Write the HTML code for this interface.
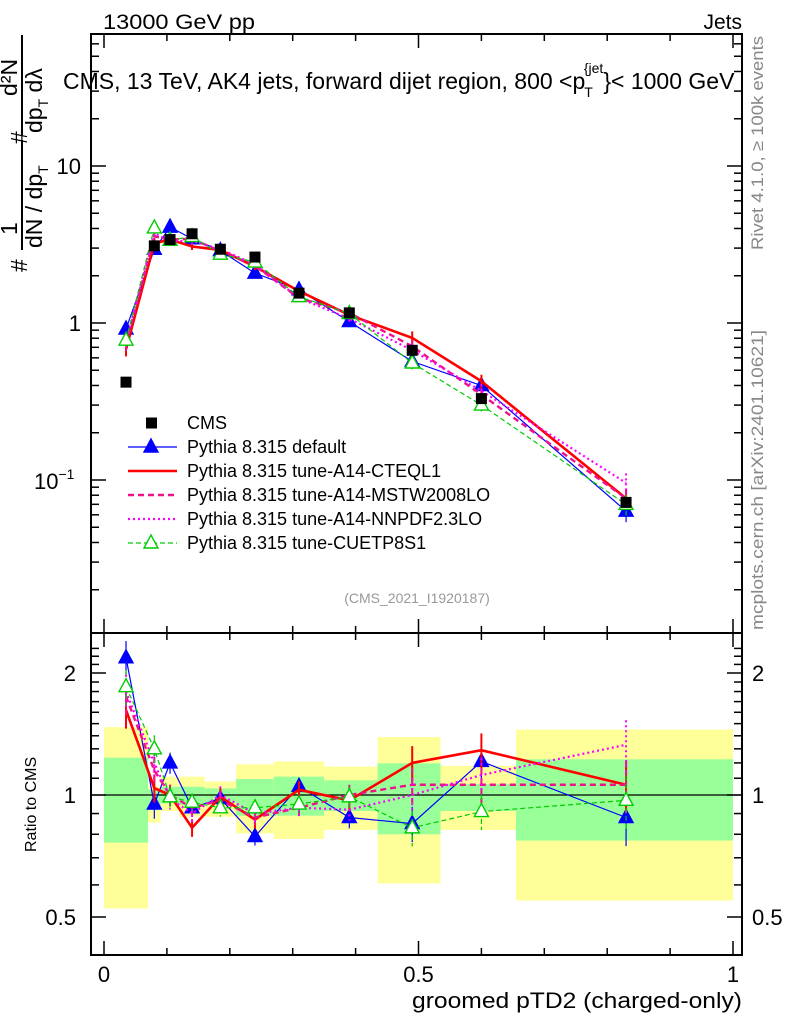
<!DOCTYPE html>
<html><head><meta charset="utf-8"><style>
body{margin:0;background:#fff;}
svg text{font-family:"Liberation Sans",sans-serif;}
</style></head><body>
<svg id="chart" width="786" height="1024" viewBox="0 0 786 1024" xmlns="http://www.w3.org/2000/svg">
<defs>
<clipPath id="clipMain"><rect x="91" y="34" width="651" height="599"/></clipPath>
<clipPath id="clipRatio"><rect x="91" y="633" width="651" height="322"/></clipPath>
</defs>
<g id="bands" clip-path="url(#clipRatio)"></g>
<g id="axes"></g>
<g id="mainSeries" clip-path="url(#clipMain)"></g>
<g id="ratioSeries" clip-path="url(#clipRatio)"></g>
<g id="legend"></g>

<text x="103" y="29" font-size="21" textLength="152" lengthAdjust="spacingAndGlyphs">13000 GeV pp</text>
<text x="742" y="29" font-size="21" text-anchor="end">Jets</text>
<text x="63" y="89" font-size="23">CMS, 13 TeV, AK4 jets, forward dijet region, 800 &lt;p<tspan font-size="14" dy="8" dx="-1">T</tspan><tspan font-size="14" dy="-24" dx="-9">{jet</tspan><tspan dy="16">}&lt; 1000 GeV</tspan></text>
<text x="417" y="603" font-size="14" fill="#999" text-anchor="middle">(CMS_2021_I1920187)</text>
<text transform="translate(763,250) rotate(-90)" font-size="17" fill="#888" textLength="214" lengthAdjust="spacingAndGlyphs">Rivet 4.1.0, ≥ 100k events</text>
<text transform="translate(763,630) rotate(-90)" font-size="17" fill="#888" textLength="300" lengthAdjust="spacingAndGlyphs">mcplots.cern.ch [arXiv:2401.10621]</text>
<text x="742" y="1008" font-size="22" text-anchor="end" textLength="330" lengthAdjust="spacingAndGlyphs">groomed pTD2 (charged-only)</text>
<text transform="translate(36,852) rotate(-90)" font-size="16">Ratio to CMS</text>
<g font-size="23">
<text transform="translate(27,272) rotate(-90)">#</text>
<text transform="translate(17,235) rotate(-90)">1</text>
<line x1="22" y1="250" x2="22" y2="140" stroke="#000" stroke-width="2"/>
<text transform="translate(42,248) rotate(-90)">dN / dp<tspan font-size="14" dy="6">T</tspan></text>
<text transform="translate(27,144) rotate(-90)">#</text>
<text transform="translate(17,96) rotate(-90)">d²N</text>
<line x1="22" y1="135" x2="22" y2="35" stroke="#000" stroke-width="2"/>
<text transform="translate(42,133) rotate(-90)">dp<tspan font-size="14" dy="6">T</tspan><tspan dy="-6"> dλ</tspan></text>
</g>
</svg>
<script>
// ---- data ----
const binCenters = [0.035,0.08,0.105,0.14,0.185,0.24,0.31,0.39,0.49,0.6,0.83];
const binEdges = [0,0.07,0.09,0.12,0.16,0.21,0.27,0.35,0.435,0.535,0.655,1.0];
const cmsValues = [0.42,3.1,3.4,3.7,2.95,2.63,1.55,1.16,0.67,0.33,0.072];
const ratioDefault = [2.18,0.95,1.2,0.93,0.98,0.79,1.05,0.88,0.85,1.21,0.88];
const ratioCTEQL1 = [1.62,1.04,1.0,0.83,0.99,0.87,1.03,0.97,1.2,1.29,1.06];
const ratioMSTW = [1.75,1.15,1.0,0.93,0.97,0.88,0.93,1.0,1.06,1.06,1.06];
const ratioNNPDF = [1.8,1.2,0.98,0.9,1.0,0.9,0.93,0.92,1.0,1.12,1.33];
const ratioCUETP8S1 = [1.85,1.3,0.99,0.96,0.93,0.93,0.95,0.99,0.83,0.91,0.97];
const modelRelErr = [0.1,0.08,0.06,0.05,0.05,0.05,0.05,0.06,0.1,0.1,0.15];
const bandTotalHi = [1.47,1.05,1.11,1.11,1.08,1.19,1.21,1.175,1.39,1.18,1.45];
const bandTotalLo = [0.525,0.855,0.913,0.884,0.884,0.804,0.779,0.82,0.605,0.82,0.549];
const bandStatHi = [1.236,1.03,1.048,1.048,1.038,1.095,1.11,1.087,1.197,1.065,1.225];
const bandStatLo = [0.763,0.918,0.954,0.945,0.954,0.889,0.889,0.913,0.80,0.913,0.772];
const mainTickLabels = ["10","1"];
const ratioTickValues = [0.5,1,2];
const xTickValues = [0,0.5,1];

// ---- axes ----
const X = v => 104 + 629*v;
const YM = v => 323 - 157*Math.log10(v);
const YR = r => 795 - 122*Math.log2(r);
const NS = "http://www.w3.org/2000/svg";
function mk(parent, tag, attrs){const e=document.createElementNS(NS,tag);for(const k in attrs)e.setAttribute(k,attrs[k]);parent.appendChild(e);return e;}
const axes=document.getElementById('axes');
const f1=mk(axes,'rect',{x:91,y:34,width:651,height:599,fill:'none',stroke:'#000','stroke-width':2});


const f2=mk(axes,'rect',{x:91,y:633,width:651,height:322,fill:'none',stroke:'#000','stroke-width':2});


const ref=mk(axes,'line',{x1:91,x2:742,y1:YR(1),y2:YR(1),stroke:'#000','stroke-width':1.2});


for(let i=0;i<=10;i++){const v=i/10;const len=(i%5==0)?14:7;
 [[34,1],[633,-1],[633,1],[955,-1]].forEach(([y0,d])=>{const t=mk(axes,'line',{x1:X(v),x2:X(v),y1:y0,y2:y0+d*len,stroke:'#000','stroke-width':1.5});
 
 });}
xTickValues.forEach(v=>{const t=mk(axes,'text',{x:X(v),y:982,'font-size':22,'text-anchor':'middle'});t.textContent=String(v);
 
 });
for(let d=-2;d<=1;d++){for(let k=1;k<=9;k++){const v=k*Math.pow(10,d);const y=YM(v);if(y<34||y>633)continue;const len=k==1?15:8;
 [[91,1],[742,-1]].forEach(([x0,s])=>{const t=mk(axes,'line',{x1:x0,x2:x0+s*len,y1:y,y2:y,stroke:'#000','stroke-width':1.5});
 
 });}}
[[10,mainTickLabels[0]],[1,mainTickLabels[1]]].forEach(([v,s])=>{const t=mk(axes,'text',{x:81,y:YM(v)+8,'font-size':22,'text-anchor':'end'});t.textContent=s;
 
 });
const tm=mk(axes,'text',{x:34,y:YM(0.1)+9,'font-size':22});tm.innerHTML='10<tspan font-size="14" dy="-10">−1</tspan>';


for(let r=0.5;r<=2.31;r+=0.1){const y=YR(r);if(y<633||y>955)continue;const major=[0.5,1,2].some(m=>Math.abs(m-r)<1e-6);const len=major?15:8;
 [[91,1],[742,-1]].forEach(([x0,s])=>{const t=mk(axes,'line',{x1:x0,x2:x0+s*len,y1:y,y2:y,stroke:'#000','stroke-width':1.5});
 
 });}
ratioTickValues.forEach(r=>{[[76,'end'],[752,'start']].forEach(([x,a])=>{const t=mk(axes,'text',{x:x,y:YR(r)+8,'font-size':22,'text-anchor':a});t.textContent=String(r);
 
 });});

// ---- bands ----
const bands=document.getElementById('bands');
for(let i=0;i<binCenters.length;i++){
 const x0=X(binEdges[i]),x1=X(binEdges[i+1]);
 const b=mk(bands,'rect',{x:x0,y:YR(bandTotalHi[i]),width:x1-x0,height:YR(bandTotalLo[i])-YR(bandTotalHi[i]),fill:'#ffff99'});
 
 
 const g=mk(bands,'rect',{x:x0,y:YR(bandStatHi[i]),width:x1-x0,height:YR(bandStatLo[i])-YR(bandStatHi[i]),fill:'#99ff99'});
 
 
}

// ---- series ----
const series=[
 {name:'default',r:ratioDefault,color:'#0000ff',w:1.2,dash:'',marker:'tri'},
 {name:'cteql1',r:ratioCTEQL1,color:'#ff0000',w:2.6,dash:'',marker:''},
 {name:'mstw2008lo',r:ratioMSTW,color:'#ee1188',w:2.4,dash:'6,4',marker:''},
 {name:'nnpdf23lo',r:ratioNNPDF,color:'#ff00ff',w:2.2,dash:'2,3',marker:''},
 {name:'cuetp8s1',r:ratioCUETP8S1,color:'#00cc00',w:1.2,dash:'5,3',marker:'otri'}
];
function tri(g,x,y,c,filled){return mk(g,'polygon',{points:`${x},${y-8} ${x-7},${y+5} ${x+7},${y+5}`,fill:filled?c:'#fff',stroke:c,'stroke-width':1.4});}
const mainG=document.getElementById('mainSeries'), ratioG=document.getElementById('ratioSeries');
series.forEach(s=>{
 [[mainG,i=>YM(cmsValues[i]*s.r[i]),(i,e)=>YM(cmsValues[i]*s.r[i]*e)],[ratioG,i=>YR(s.r[i]),(i,e)=>YR(s.r[i]*e)]].forEach(([g,yf,ye],pi)=>{
  const pts=binCenters.map((v,i)=>X(v)+','+yf(i)).join(' ');
  const pl=mk(g,'polyline',{points:pts,fill:'none',stroke:s.color,'stroke-width':s.w,'stroke-dasharray':s.dash});
  
  
  binCenters.forEach((v,i)=>{const x=X(v);
   const eb=mk(g,'line',{x1:x,x2:x,y1:ye(i,1+modelRelErr[i]),y2:ye(i,1-modelRelErr[i]),stroke:s.color,'stroke-width':s.w>2?2:1.2,'stroke-dasharray':s.dash});
   
   
   if(s.marker){const m=tri(g,x,yf(i),s.color,s.marker=='tri');
    
    }
  });
 });
});
binCenters.forEach((v,i)=>{const sq=mk(mainG,'rect',{x:X(v)-5.5,y:YM(cmsValues[i])-5.5,width:11,height:11,fill:'#000'});
 
 });

// ---- legend ----
const leg=document.getElementById('legend');
const legendLabels=['CMS','Pythia 8.315 default','Pythia 8.315 tune-A14-CTEQL1','Pythia 8.315 tune-A14-MSTW2008LO','Pythia 8.315 tune-A14-NNPDF2.3LO','Pythia 8.315 tune-CUETP8S1'];
legendLabels.forEach((lab,i)=>{const y=423+24*i;
 const t=mk(leg,'text',{x:187,y:y+6,'font-size':18});t.textContent=lab;
 
 
 if(i==0){const sq=mk(leg,'rect',{x:146,y:y-5.5,width:11,height:11,fill:'#000'});
  
  }
 else{const s=series[i-1];
  const l=mk(leg,'line',{x1:128,x2:177,y1:y,y2:y,stroke:s.color,'stroke-width':s.w,'stroke-dasharray':s.dash});
  
  
  if(s.marker){const m=tri(leg,151,y,s.color,s.marker=='tri');
   
   }}
});
</script>
</body></html>
